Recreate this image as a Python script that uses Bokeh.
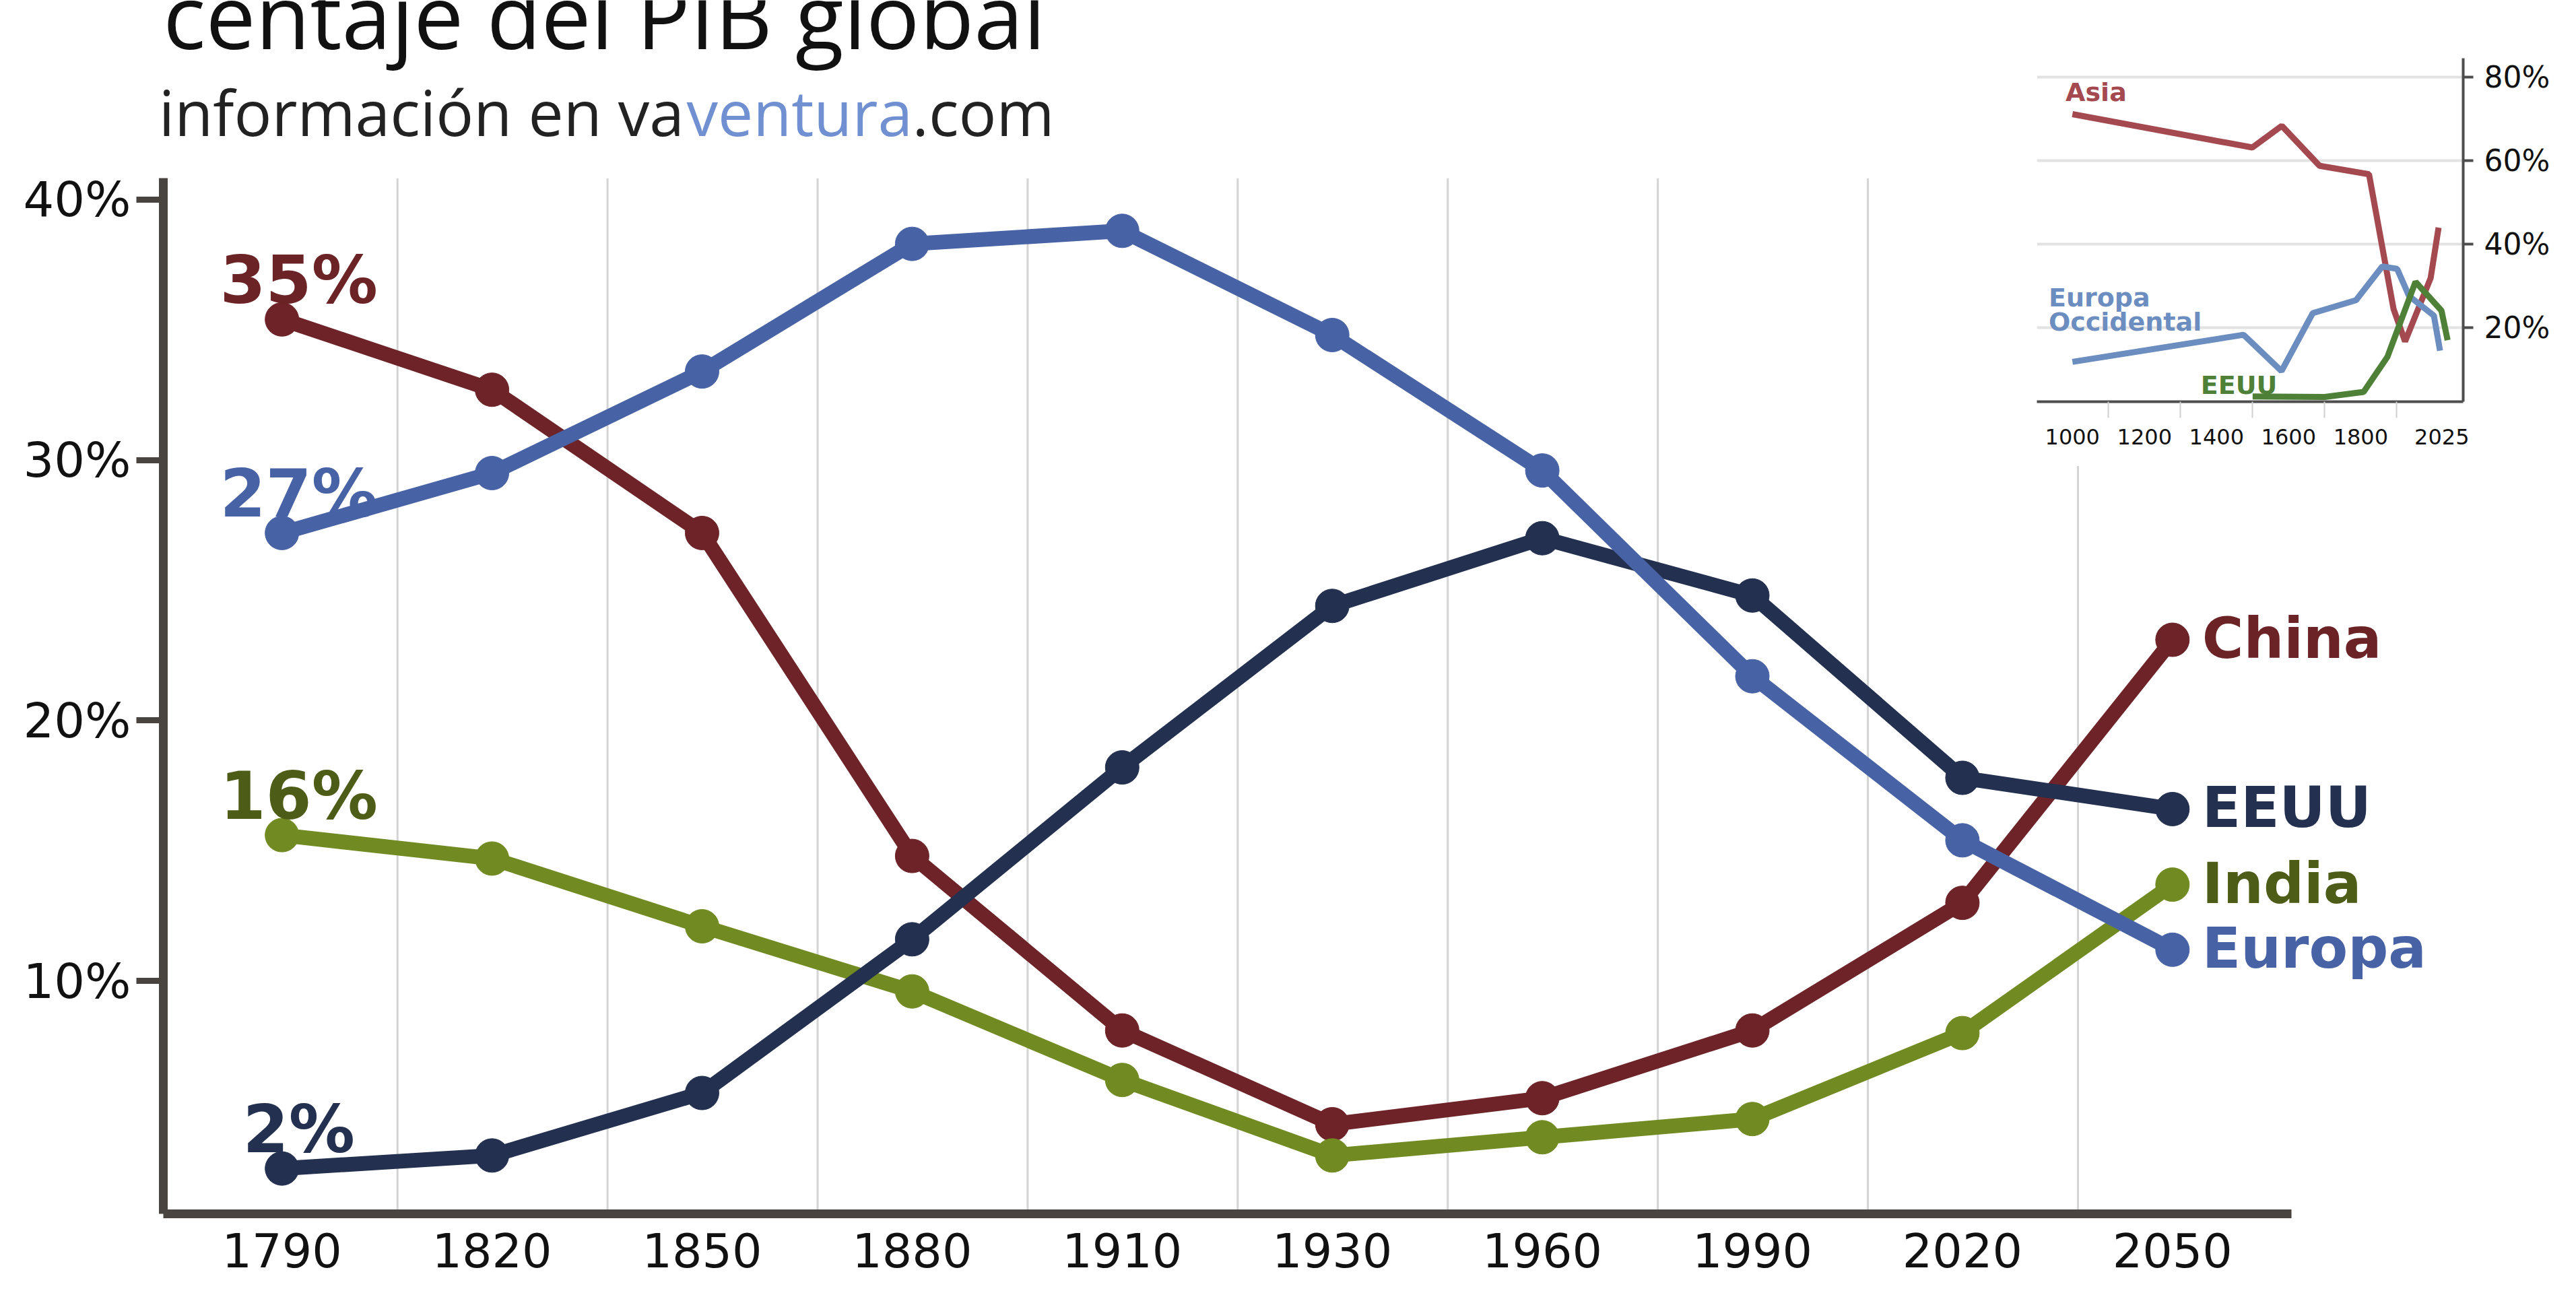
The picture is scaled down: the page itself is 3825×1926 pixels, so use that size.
from bokeh.plotting import figure
from bokeh.models import Range1d, FixedTicker, Label
from bokeh.layouts import column
from bokeh.embed import file_html
from bokeh.resources import INLINE
from bokeh.core.properties import value

# ---------------- data (main chart) ----------------
YEARS = ["1790", "1820", "1850", "1880", "1910", "1930", "1960", "1990", "2020", "2050"]
CHINA = [35.4, 32.7, 27.2, 14.8, 8.1, 4.5, 5.5, 8.1, 13.0, 23.1]
EUROPA = [27.2, 29.5, 33.4, 38.3, 38.8, 34.8, 29.6, 21.7, 15.4, 11.2]
EEUU = [2.8, 3.3, 5.7, 11.6, 18.2, 24.4, 27.0, 24.8, 17.8, 16.6]
INDIA = [15.6, 14.7, 12.1, 9.6, 6.2, 3.3, 4.0, 4.7, 8.0, 13.7]
START_LABELS = ["35%", "2%", "16%", "27%"]   # China, EEUU, India, Europa
END_LABELS = ["China", "EEUU", "India", "Europa"]
Y_TICKS = [10, 20, 30, 40]

# ---------------- data (inset) ----------------
ASIA_YR = [1000, 1499, 1581, 1686, 1823, 1891, 1923, 1994, 2016]
ASIA_PCT = [71.2, 63.2, 68.4, 58.8, 56.8, 24.5, 16.7, 31.9, 44.0]
EUOCC_YR = [1000, 1475, 1580, 1667, 1787, 1860, 1901, 1934, 2003, 2020]
EUOCC_PCT = [11.8, 18.3, 9.6, 23.5, 26.6, 34.7, 34.1, 27.6, 22.9, 14.5]
USA_YR = [1500, 1700, 1808, 1874, 1952, 2024, 2041]
USA_PCT = [3.5, 3.4, 4.6, 13.0, 31.0, 24.1, 17.0]
INSET_X_TICKS = [1000, 1200, 1400, 1600, 1800, 2025]
INSET_Y_TICKS = [20, 40, 60, 80]

# ---------------- styles ----------------
C_CHINA, C_EEUU, C_INDIA, C_EUROPA = "#6D2327", "#23304F", "#718B22", "#4862A6"
T_CHINA, T_EEUU, T_INDIA, T_EUROPA = "#6B2326", "#23304F", "#4D5C16", "#4862A6"
AXIS_C = "#4A4440"
FONT = value("DejaVu Sans")

W, H = 3809, 1910
X0, X1 = -0.5648, 10.384
Y0, Y1 = 1.06, 47.65
X_AXIS_END = 9.567
Y_AXIS_TOP = 40.82

p = figure(width=W, height=H, output_backend="svg", toolbar_location=None,
           x_range=Range1d(X0, X1), y_range=Range1d(Y0, Y1),
           min_border_left=242, min_border_right=0, min_border_top=0,
           min_border_bottom=108)
p.outline_line_color = None
p.xgrid.visible = False
p.ygrid.visible = False

xs = list(range(len(YEARS)))

# vertical separators between years
grid_x = [i + 0.55 for i in range(len(YEARS) - 1)]
p.segment(x0=grid_x, y0=[Y0] * len(grid_x), x1=grid_x, y1=[Y_AXIS_TOP] * len(grid_x),
          line_color="#D4D4D4", line_width=3)

series = [(CHINA, C_CHINA), (INDIA, C_INDIA), (EEUU, C_EEUU), (EUROPA, C_EUROPA)]
for vals, col in series:
    p.line(xs, vals, line_color=col, line_width=22, line_join="round")
    p.scatter(xs, vals, size=50, fill_color=col, line_color=col)

firsts = [CHINA[0], EEUU[0], INDIA[0], EUROPA[0]]
lasts = [CHINA[-1], EEUU[-1], INDIA[-1], EUROPA[-1]]
tcols = [T_CHINA, T_EEUU, T_INDIA, T_EUROPA]
p.text(x=[xs[0]] * 4, y=firsts, text=START_LABELS, text_color=tcols,
       x_offset=25, y_offset=-58, text_align="center", text_baseline="alphabetic",
       text_font=FONT, text_font_style="bold", text_font_size="98px")
p.text(x=[xs[-1]] * 4, y=lasts, text=END_LABELS, text_color=tcols,
       x_offset=44, y_offset=-2, text_align="left", text_baseline="middle",
       text_font=FONT, text_font_style="bold", text_font_size="84px")

xa = p.xaxis[0]
xa.ticker = FixedTicker(ticks=xs, minor_ticks=[])
xa.major_label_overrides = {i: y for i, y in enumerate(YEARS)}
xa.bounds = (X0, X_AXIS_END)
xa.axis_line_width = 13
xa.axis_line_color = AXIS_C
xa.major_tick_line_color = None
xa.minor_tick_line_color = None
xa.major_label_text_font = "DejaVu Sans"
xa.major_label_text_font_size = "70px"
xa.major_label_text_color = "#111111"
xa.major_label_standoff = 22

ya = p.yaxis[0]
ya.ticker = FixedTicker(ticks=Y_TICKS, minor_ticks=[])
ya.major_label_overrides = {t: f"{t}%" for t in Y_TICKS}
ya.bounds = (Y0, Y_AXIS_TOP)
ya.axis_line_width = 13
ya.axis_line_color = AXIS_C
ya.major_tick_out = 40
ya.major_tick_in = 0
ya.major_tick_line_width = 9
ya.major_tick_line_color = AXIS_C
ya.minor_tick_line_color = None
ya.major_label_text_font = "DejaVu Sans"
ya.major_label_text_font_size = "72px"
ya.major_label_text_color = "#111111"
ya.major_label_standoff = 8

# title & subtitle
FRAME_H = H - 108
p.add_layout(Label(x=-213, y=FRAME_H - 21, x_units="screen", y_units="screen",
                   text="Porcentaje del PIB global", text_font="Open Sans",
                   text_font_size="132px", text_color="#111111", text_baseline="alphabetic"))
SUB_Y = FRAME_H - 165
p.add_layout(Label(x=-213, y=SUB_Y, x_units="screen", y_units="screen",
                   text="más información en va", text_font="Open Sans",
                   text_font_size="93px", text_color="#222222", text_baseline="alphabetic"))
p.add_layout(Label(x=777, y=SUB_Y, x_units="screen", y_units="screen",
                   text="ventura", text_font="Open Sans",
                   text_font_size="93px", text_color="#7090D2", text_baseline="alphabetic"))
p.add_layout(Label(x=1112, y=SUB_Y, x_units="screen", y_units="screen",
                   text=".com", text_font="Open Sans",
                   text_font_size="93px", text_color="#222222", text_baseline="alphabetic"))

# ---------------- inset ----------------
IW, IH = 1027, 692
q = figure(width=IW, height=IH, output_backend="svg", toolbar_location=None,
           x_range=Range1d(901.4, 2084.3), y_range=Range1d(2.26, 84.6),
           y_axis_location="right",
           min_border_left=47, min_border_right=152, min_border_top=86, min_border_bottom=96)
q.margin = (-H, 0, 0, 2782)
q.outline_line_color = None
q.xgrid.visible = False
q.ygrid.ticker = FixedTicker(ticks=INSET_Y_TICKS)
q.ygrid.grid_line_color = "#E2E2E2"
q.ygrid.grid_line_width = 4

A_COL, E_COL, U_COL = "#A3494F", "#6B8DC0", "#4E8038"
q.line(ASIA_YR, ASIA_PCT, line_color=A_COL, line_width=9)
q.line(EUOCC_YR, EUOCC_PCT, line_color=E_COL, line_width=9)
q.line(USA_YR, USA_PCT, line_color=U_COL, line_width=9)

q.text(x=[981, 934, 934, 1356], y=[76.4, 27.2, 21.4, 6.2],
       text=["Asia", "Europa", "Occidental", "EEUU"],
       text_color=[A_COL, E_COL, E_COL, U_COL],
       text_align="left", text_baseline="middle",
       text_font=FONT, text_font_style="bold", text_font_size="38px")

qx = q.xaxis[0]
qx.ticker = FixedTicker(ticks=INSET_X_TICKS, minor_ticks=[1100, 1300, 1500, 1700, 1900])
qx.axis_line_width = 4
qx.axis_line_color = "#4D4D4D"
qx.major_tick_line_color = None
qx.minor_tick_out = 24
qx.minor_tick_in = 0
qx.minor_tick_line_color = "#D0D0D0"
qx.minor_tick_line_width = 2
qx.major_label_text_font = "DejaVu Sans"
qx.major_label_text_font_size = "32px"
qx.major_label_text_color = "#111111"
qx.major_label_standoff = 16

qy = q.yaxis[0]
qy.ticker = FixedTicker(ticks=INSET_Y_TICKS, minor_ticks=[])
qy.major_label_overrides = {t: f"{t}%" for t in INSET_Y_TICKS}
qy.axis_line_width = 4
qy.axis_line_color = "#4D4D4D"
qy.major_tick_out = 15
qy.major_tick_in = 0
qy.major_tick_line_width = 4
qy.major_tick_line_color = "#4D4D4D"
qy.minor_tick_line_color = None
qy.major_label_text_font = "DejaVu Sans"
qy.major_label_text_font_size = "44px"
qy.major_label_text_color = "#111111"
qy.major_label_standoff = 16

q.add_layout(Label(x=947, y=546, x_units="screen", y_units="screen",
                   text="%PIB global", text_font="DejaVu Sans",
                   text_font_size="50px", text_color="#111111",
                   text_align="right", text_baseline="alphabetic"))

layout = column(p, q)
open("out.html", "w").write(file_html(layout, INLINE))
